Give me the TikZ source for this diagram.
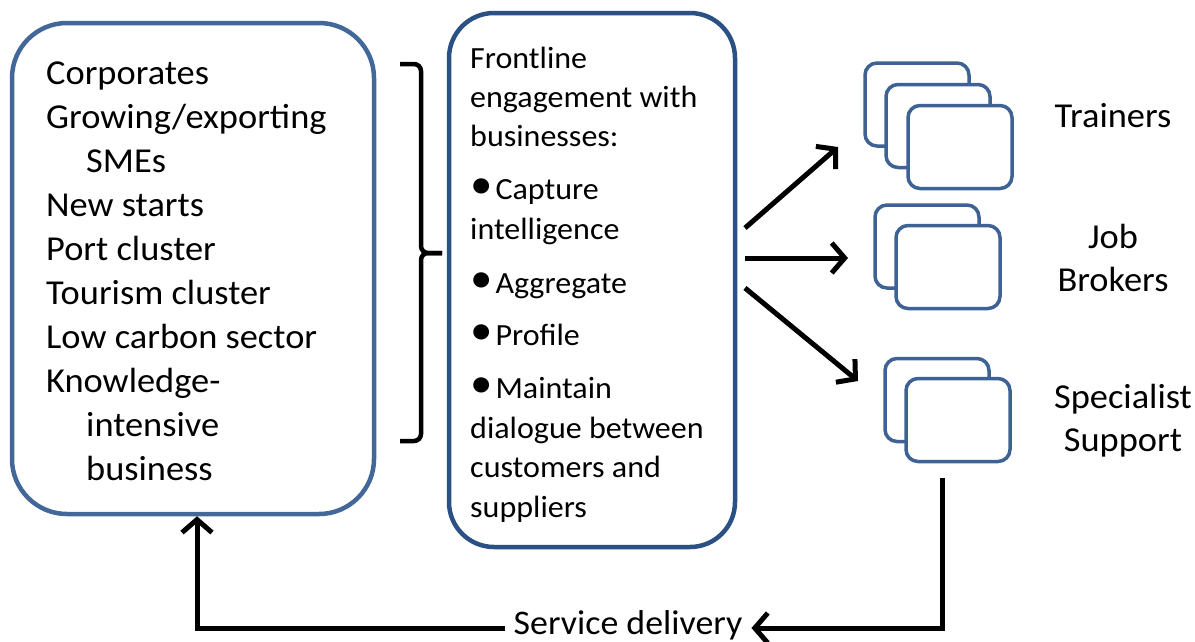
\documentclass[tikz,border=0pt]{standalone}
\usepackage{fontspec}
\setmainfont[FakeStretch=1.04]{Carlito}
\usetikzlibrary{arrows.meta}
\definecolor{lboxc}{RGB}{66,103,152}
\definecolor{mboxc}{RGB}{42,80,132}
\definecolor{sboxc}{RGB}{62,98,148}
\newcommand\bul{\raisebox{1pt}{\scalebox{1.4}{\textbullet}}\hspace{3pt}}
\begin{document}
\begin{tikzpicture}[x=1pt,y=-1pt,
  bigbox/.style={draw=lboxc, line width=4.5pt, rounded corners=55pt, inner sep=0pt},
  midbox/.style={draw=mboxc, line width=4.5pt, rounded corners=45pt, inner sep=0pt},
  stackbox/.style={draw=sboxc, fill=white, line width=3.5pt, rounded corners=12pt,
    minimum width=104pt, minimum height=83pt, inner sep=0pt},
  lefttext/.style={font=\fontsize{35}{44}\selectfont, align=left, inner sep=0pt, anchor=north west},
  midtext/.style={font=\fontsize{30.8}{39.4}\selectfont, align=left, inner sep=0pt, anchor=north west},
  label/.style={font=\fontsize{35}{43}\selectfont, align=center, inner sep=0pt},
  conn/.style={line width=5pt, -{Straight Barb[length=13pt,width=30pt]}},
  bracestyle/.style={line width=4.5pt, rounded corners=7pt}
]
\useasboundingbox (0,0) rectangle (1195,641);

% main boxes
\node[bigbox, minimum width=362pt, minimum height=491pt] (left) at (193,268.5) {};
\node[midbox, minimum width=286pt, minimum height=534pt] (mid) at (592,280) {};

\node[lefttext] (lt) at (46,61.5) {Corporates\\Growing/exporting\\\hspace*{40pt}SMEs\\New starts\\Port cluster\\Tourism cluster\\Low carbon sector\\Knowledge-\\\hspace*{40pt}intensive\\\hspace*{40pt}business};

\node[midtext] (mt) at (470,46.5) {Frontline\\engagement with\\businesses:\\[13.5pt]\bul Capture\\intelligence\\[15pt]\bul Aggregate\\[13pt]\bul Profile\\[13.5pt]\bul Maintain\\dialogue between\\customers and\\suppliers};

% brace
\draw[bracestyle] (400,64) -- (421,64) -- (421,253) -- (442,253);
\draw[bracestyle] (442,253) -- (421,253) -- (421,441) -- (400,441);

% stacks
\node[stackbox] (t1) at (917,104.5) {};
\node[stackbox] (t2) at (938,126) {};
\node[stackbox] (t3) at (960,147) {};
\node[stackbox] (j1) at (927,246.5) {};
\node[stackbox] (j2) at (948,267) {};
\node[stackbox] (s1) at (937,400) {};
\node[stackbox] (s2) at (958,420) {};

\node[label] (trainers) at (1113,116) {Trainers};
\node[label] (jobs) at (1113,258) {Job\\Brokers};
\node[label] (spec) at (1123,421) {Specialist\\Support};

% arrows
\coordinate (a1s) at (745,228);
\coordinate (a1e) at (838,147);
\coordinate (a2s) at (745,258);
\coordinate (a2e) at (848,258);
\coordinate (a3s) at (745,288);
\coordinate (a3e) at (858,381);
\draw[conn] (a1s) -- (a1e);
\draw[conn] (a2s) -- (a2e);
\draw[conn] (a3s) -- (a3e);

% service delivery loop
\node[font=\fontsize{34.5}{38}\selectfont, inner xsep=9pt, inner ysep=0pt, anchor=base] (sd) at (628,634.5) {Service delivery};
\coordinate (loopstart) at (942,478);
\coordinate (loopy) at (942,628);
\draw[conn] (loopstart) -- (loopy) -- (sd.east |- loopy);
\draw[conn] (sd.west |- loopy) -| ([xshift=4pt]left.south);
\end{tikzpicture}
\end{document}
